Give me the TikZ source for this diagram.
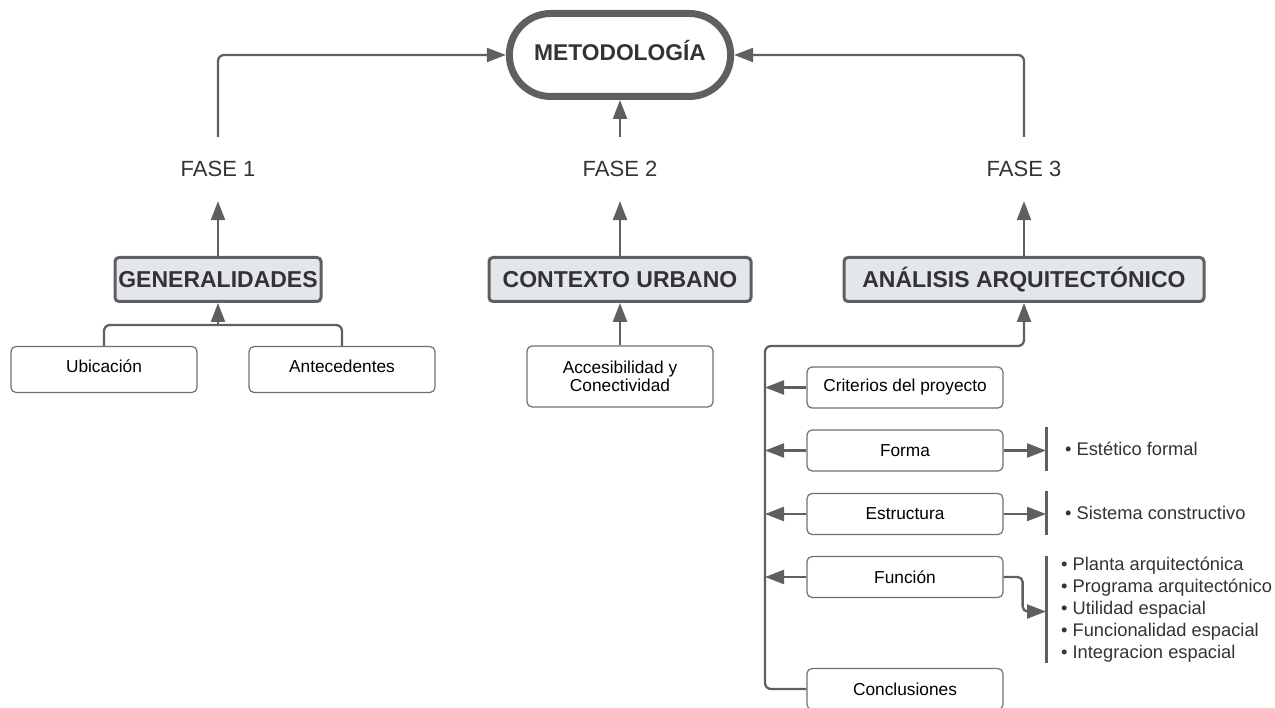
\documentclass[tikz,border=0pt]{standalone}
\usepackage{xcolor}
\usepackage{fontspec}
\setmainfont{Liberation Sans}
\usetikzlibrary{arrows.meta}
\usetikzlibrary{positioning}
\usetikzlibrary{shapes.misc}
\definecolor{lineagris}{HTML}{5F5F5F}
\definecolor{cajagris}{HTML}{707070}
\definecolor{rellenogris}{HTML}{E3E6EB}
\definecolor{textogris}{HTML}{333333}

\begin{document}
\begin{tikzpicture}[
					x=1pt, y=-1pt,
					line width=2.3pt,
					flecha/.style={draw=lineagris, line width=2.3pt, -{Triangle[length=19pt, width=14pt]}},
					linea/.style={draw=lineagris, line width=2.3pt},
					barra/.style={draw=lineagris, line width=3pt},
					metodo/.style={rounded rectangle, draw=lineagris, line width=7pt, minimum width=228pt, minimum height=83pt, text height=16pt, text depth=5pt, font=\bfseries\fontsize{22.8}{26}\selectfont, text=textogris},
					fase/.style={font=\fontsize{22}{26}\selectfont, text=textogris, minimum height=62pt, inner sep=0pt},
					cabeza/.style={draw=lineagris, line width=3pt, fill=rellenogris, rounded corners=4pt, minimum height=44pt, inner sep=0pt, font=\bfseries\fontsize{23}{26}\selectfont, text=textogris},
					caja/.style={draw=cajagris, line width=1.2pt, rounded corners=5pt, fill=white, minimum width=186pt, minimum height=46pt, align=center, font=\fontsize{17.3}{17.5}\selectfont},
					cajader/.style={caja, minimum width=196pt, minimum height=41pt},
					lista/.style={anchor=west, align=left, text=textogris, minimum height=41pt, inner ysep=0pt, font=\fontsize{18.3}{22}\selectfont},
				]
					\useasboundingbox (0,0) rectangle (1275,708);
					\node (meto) [metodo] at (620,55) {METODOLOGÍA};
					\node (f1) [fase] at (218,169) {FASE 1};
					\node (f2) [fase] at (620,169) {FASE 2};
					\node (f3) [fase] at (1024,169) {FASE 3};
					
					\node (gen) [cabeza, minimum width=206pt] at (218,279.5) {GENERALIDADES};
					\node (ctx) [cabeza, minimum width=262pt] at (620,279.5) {CONTEXTO URBANO};
					\node (ana) [cabeza, minimum width=360pt] at (1024,279.5) {ANÁLISIS ARQUITECTÓNICO};
					
					\node (ubi) [caja, text depth=6pt] at (104,369.5) {Ubicación};
					\node (ant) [caja, text depth=6pt] at (342,369.5) {Antecedentes};
					\node (acc) [caja, minimum height=61pt] at (620,376.5) {Accesibilidad y\\Conectividad};
					
					\node (crit) [cajader] at (905,387.5) {Criterios del proyecto};
					\node (forma) [cajader] at (905,450.5) {Forma};
					\node (estr) [cajader] at (905,514) {Estructura};
					\node (fun) [cajader] at (905,577) {Función};
					\node (conc) [cajader] at (905,689) {Conclusiones};
					
					\node (lfor) [lista, inner xsep=18pt] at (1046,449) {• Estético formal};
					\node (lest) [lista, inner xsep=18pt] at (1046,513) {• Sistema constructivo};
					\node (lfun) [lista, inner xsep=14pt, minimum height=105pt] at (1046,609.5) {• Planta arquitectónica\\• Programa arquitectónico\\• Utilidad espacial\\• Funcionalidad espacial\\• Integracion espacial};
					
					\coordinate (jgen) at (218,325);
					\coordinate (bus) at (765,346);
					
					\draw[flecha, rounded corners=6pt] (f1.north) |- (meto.west);
					\draw[flecha, rounded corners=6pt] (f3.north) |- (meto.east);
					\draw[flecha] (f2.north) -- (meto.south);
					\draw[flecha] (gen.north) -- (f1.south);
					\draw[flecha] (ctx.north) -- (f2.south);
					\draw[flecha] (ana.north) -- (f3.south);
					
					\draw[linea, rounded corners=6pt] (ubi.north) |- (jgen) -| (ant.north);
					\draw[flecha] (jgen) -- (gen.south);
					\draw[flecha] (acc.north) -- (ctx.south);
					
					\draw[flecha, rounded corners=6pt] (conc.west) -| (bus) -| (ana.south);
					\draw[flecha] (crit.west) -- (crit.west -| bus);
					\draw[flecha] (forma.west) -- (forma.west -| bus);
					\draw[flecha] (estr.west) -- (estr.west -| bus);
					\draw[flecha] (fun.west) -- (fun.west -| bus);
					
					\draw[barra] (lfor.north west) -- (lfor.south west);
					\draw[barra] (lest.north west) -- (lest.south west);
					\draw[barra] (lfun.north west) -- (lfun.south west);
					\draw[flecha] (forma.east) -- (forma.east -| lfor.west);
					\draw[flecha] (estr.east) -- (estr.east -| lest.west);
					\draw[flecha, rounded corners=5pt] (fun.east) -- ++(19,0) |- ([yshift=-2pt]lfun.west);
				\end{tikzpicture}
\end{document}
